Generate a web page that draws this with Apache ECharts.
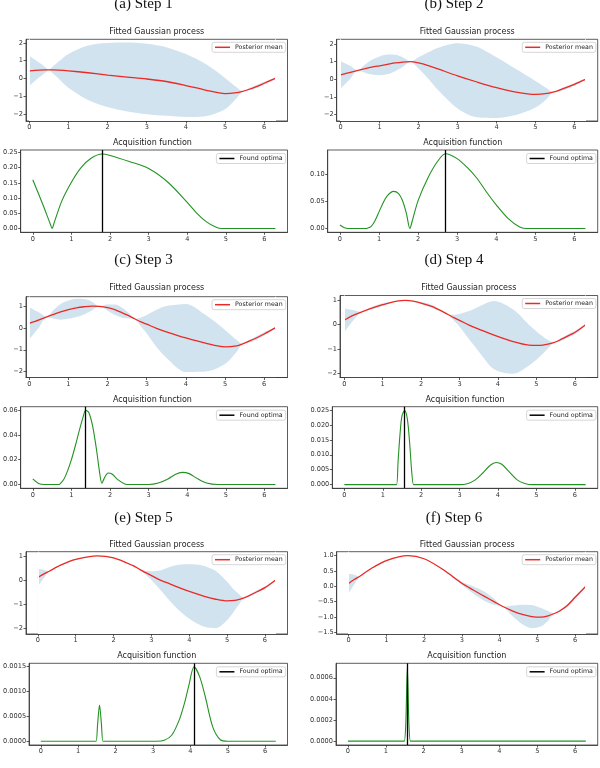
<!DOCTYPE html>
<html>
<head>
<meta charset="utf-8">
<script src="https://cdn.jsdelivr.net/npm/echarts@6/dist/echarts.min.js"></script>
<style>
  html, body { margin: 0; padding: 0; background: #fff; }
  #chart { width: 600px; height: 768px; }
</style>
</head>
<body>
<div id="chart"></div>
<script>
// ---- data ----
const stepLabels = ['(a) Step 1', '(b) Step 2', '(c) Step 3', '(d) Step 4', '(e) Step 5', '(f) Step 6'];
const xTicks = [0, 1, 2, 3, 4, 5, 6];

// step 1
const gpX_a = [0, 0.25, 0.4, 0.5, 0.6, 0.75, 1, 1.5, 2, 2.5, 3, 3.5, 4, 4.5, 5, 5.3, 5.45, 5.6, 5.8, 6, 6.283];
const mean_a = [0.43, 0.47, 0.48, 0.48, 0.48, 0.47, 0.43, 0.32, 0.19, 0.08, -0.03, -0.17, -0.40, -0.65, -0.85, -0.80, -0.72, -0.62, -0.46, -0.27, 0];
const upper_a = [1.28, 0.89, 0.65, 0.48, 0.67, 0.95, 1.38, 1.85, 1.99, 2.02, 1.95, 1.76, 1.37, 0.82, 0.03, -0.50, -0.72, -0.56, -0.37, -0.18, 0.04];
const lower_a = [-0.42, 0.05, 0.31, 0.48, 0.29, -0.01, -0.52, -1.21, -1.61, -1.86, -2.01, -2.10, -2.17, -2.12, -1.73, -1.10, -0.72, -0.68, -0.55, -0.36, -0.04];
const acqX_a = [0, 0.25, 0.45, 0.5, 0.55, 0.75, 1, 1.25, 1.5, 1.79, 2, 2.5, 3, 3.5, 4, 4.25, 4.5, 4.75, 4.9, 5.1, 6.283];
const acq_a = [0.160, 0.082, 0.016, 0, 0.018, 0.090, 0.152, 0.200, 0.230, 0.2445, 0.240, 0.220, 0.197, 0.152, 0.086, 0.050, 0.022, 0.004, 0, 0, 0];
const optimum_a = 1.79;

// step 2
const gpX_b = [0, 0.25, 0.45, 0.6, 0.8, 1, 1.2, 1.4, 1.6, 1.79, 2, 2.25, 2.5, 3, 3.5, 4, 4.5, 5, 5.3, 5.45, 5.6, 5.8, 6, 6.283];
const mean_b = [0.26, 0.40, 0.51, 0.59, 0.69, 0.77, 0.85, 0.93, 0.98, 1.0, 0.93, 0.78, 0.59, 0.20, -0.15, -0.47, -0.72, -0.85, -0.80, -0.72, -0.62, -0.46, -0.28, 0];
const upper_b = [1.04, 0.76, 0.51, 0.79, 1.11, 1.30, 1.41, 1.40, 1.25, 1.0, 1.25, 1.53, 1.79, 2.05, 1.85, 1.25, 0.58, -0.10, -0.52, -0.72, -0.56, -0.38, -0.20, 0.03];
const lower_b = [-0.52, 0.04, 0.51, 0.39, 0.27, 0.24, 0.29, 0.46, 0.71, 1.0, 0.61, 0.03, -0.61, -1.65, -2.15, -2.19, -2.02, -1.60, -1.08, -0.72, -0.68, -0.54, -0.36, -0.03];
const acqX_b = [0, 0.1, 0.2, 0.65, 0.7, 0.8, 0.9, 1.0, 1.1, 1.2, 1.37, 1.5, 1.6, 1.7, 1.79, 1.85, 2.0, 2.25, 2.5, 2.7, 3.0, 3.25, 3.5, 3.75, 4.0, 4.3, 4.6, 4.8, 4.9, 6.283];
const acq_b = [0.0065, 0.002, 0, 0, 0.0005, 0.004, 0.015, 0.031, 0.047, 0.060, 0.069, 0.065, 0.052, 0.028, 0, 0.014, 0.052, 0.094, 0.125, 0.139, 0.130, 0.114, 0.094, 0.068, 0.044, 0.019, 0.003, 0, 0, 0];
const optimum_b = 2.7;

// step 3
const gpX_c = [0, 0.25, 0.45, 0.6, 0.8, 1, 1.2, 1.4, 1.6, 1.79, 2, 2.2, 2.4, 2.55, 2.7, 2.85, 3, 3.25, 3.5, 4, 4.5, 5, 5.3, 5.45, 5.6, 5.8, 6, 6.283];
const mean_c = [0.21, 0.37, 0.51, 0.61, 0.74, 0.84, 0.92, 0.97, 1.0, 0.99, 0.93, 0.83, 0.67, 0.55, 0.41, 0.28, 0.17, -0.02, -0.18, -0.46, -0.70, -0.87, -0.82, -0.73, -0.62, -0.46, -0.28, 0];
const upper_c = [0.95, 0.71, 0.51, 0.79, 1.10, 1.26, 1.34, 1.32, 1.20, 0.99, 1.07, 1.07, 0.89, 0.67, 0.41, 0.48, 0.59, 0.83, 1.0, 1.10, 0.60, -0.09, -0.55, -0.73, -0.56, -0.38, -0.20, 0.03];
const lower_c = [-0.53, 0.03, 0.51, 0.43, 0.38, 0.42, 0.50, 0.62, 0.80, 0.99, 0.79, 0.59, 0.45, 0.43, 0.41, 0.08, -0.25, -0.87, -1.36, -2.02, -2.0, -1.65, -1.09, -0.73, -0.68, -0.54, -0.36, -0.03];
const acqX_c = [0, 0.15, 0.3, 0.65, 0.7, 0.8, 0.9, 1.0, 1.1, 1.2, 1.3, 1.37, 1.45, 1.55, 1.65, 1.72, 1.79, 1.85, 1.95, 2.05, 2.2, 2.4, 2.5, 3.0, 3.25, 3.5, 3.7, 3.87, 4.05, 4.25, 4.5, 4.8, 4.9, 6.283];
const acq_c = [0.0045, 0.0008, 0, 0, 0.0004, 0.004, 0.011, 0.020, 0.031, 0.043, 0.054, 0.0597, 0.058, 0.047, 0.028, 0.012, 0.001, 0.005, 0.0093, 0.0085, 0.004, 0.0003, 0, 0, 0.0012, 0.0045, 0.0083, 0.0098, 0.0088, 0.005, 0.0012, 0, 0, 0];
const optimum_c = 1.37;

// step 4
const gpX_d = [0, 0.2, 0.45, 0.7, 1, 1.37, 1.6, 1.79, 2, 2.3, 2.7, 2.85, 3, 3.25, 3.5, 3.9, 4.4, 4.8, 5.1, 5.3, 5.45, 5.6, 5.8, 6, 6.283];
const mean_d = [0.18, 0.36, 0.52, 0.67, 0.82, 0.97, 1.0, 0.97, 0.89, 0.74, 0.42, 0.29, 0.18, -0.02, -0.18, -0.43, -0.70, -0.84, -0.85, -0.80, -0.74, -0.64, -0.48, -0.32, 0];
const upper_d = [0.68, 0.61, 0.52, 0.72, 0.88, 0.97, 1.02, 0.97, 0.93, 0.80, 0.42, 0.41, 0.44, 0.56, 0.74, 0.97, 0.62, 0.01, -0.40, -0.62, -0.74, -0.59, -0.41, -0.25, 0.03];
const lower_d = [-0.32, 0.11, 0.52, 0.62, 0.76, 0.97, 0.98, 0.97, 0.85, 0.68, 0.42, 0.17, -0.08, -0.60, -1.10, -1.83, -2.02, -1.69, -1.30, -0.98, -0.74, -0.69, -0.55, -0.39, -0.03];
const acqX_d = [0, 1.3, 1.36, 1.4, 1.45, 1.5, 1.57, 1.64, 1.7, 1.75, 1.8, 1.85, 3.0, 3.2, 3.4, 3.6, 3.8, 3.95, 4.1, 4.3, 4.5, 4.7, 4.9, 6.283];
const acq_d = [0, 0, 0, 0.008, 0.017, 0.023, 0.0248, 0.022, 0.014, 0.005, 0, 0, 0, 0.0003, 0.0015, 0.0038, 0.0065, 0.0074, 0.0068, 0.0042, 0.0016, 0.0004, 0, 0];
const optimum_d = 1.57;

// step 5
const gpX_e = [0, 0.15, 0.3, 0.6, 1, 1.57, 2, 2.5, 2.7, 2.85, 3, 3.25, 3.5, 3.8, 4.1, 4.4, 4.7, 5, 5.2, 5.35, 5.45, 5.6, 5.8, 6, 6.283];
const mean_e = [0.10, 0.24, 0.36, 0.61, 0.85, 1.0, 0.91, 0.60, 0.43, 0.30, 0.18, -0.02, -0.17, -0.36, -0.53, -0.68, -0.80, -0.87, -0.85, -0.79, -0.74, -0.64, -0.48, -0.32, 0];
const upper_e = [0.46, 0.42, 0.36, 0.63, 0.87, 1.0, 0.92, 0.62, 0.43, 0.38, 0.36, 0.40, 0.55, 0.64, 0.65, 0.58, 0.37, -0.07, -0.43, -0.64, -0.74, -0.60, -0.43, -0.27, 0.02];
const lower_e = [-0.26, 0.06, 0.36, 0.59, 0.83, 1.0, 0.90, 0.58, 0.43, 0.22, 0.0, -0.44, -0.89, -1.36, -1.71, -1.94, -2.0, -1.67, -1.27, -0.94, -0.74, -0.68, -0.53, -0.37, -0.02];
const acqX_e = [0, 1.44, 1.48, 1.52, 1.57, 1.62, 1.66, 1.7, 3.1, 3.3, 3.5, 3.7, 3.85, 3.95, 4.1, 4.25, 4.4, 4.6, 4.8, 5.0, 5.1, 6.283];
const acq_e = [0, 0, 0, 0.00035, 0.00072, 0.00035, 0, 0, 0, 0.00002, 0.00012, 0.00042, 0.00078, 0.00108, 0.00148, 0.00128, 0.00088, 0.00028, 0.00003, 0, 0, 0];
const optimum_e = 4.1;

// step 6
const gpX_f = [0, 0.15, 0.3, 0.6, 1, 1.57, 2, 2.5, 3, 3.3, 3.6, 3.85, 4.1, 4.35, 4.6, 4.85, 5.1, 5.3, 5.45, 5.6, 5.8, 6, 6.283];
const mean_f = [0.09, 0.22, 0.33, 0.58, 0.84, 1.0, 0.90, 0.55, 0.10, -0.12, -0.33, -0.50, -0.67, -0.81, -0.92, -0.99, -1.01, -0.96, -0.89, -0.80, -0.62, -0.36, 0];
const upper_f = [0.41, 0.38, 0.33, 0.60, 0.86, 1.0, 0.91, 0.57, 0.15, 0.0, -0.18, -0.40, -0.67, -0.63, -0.60, -0.61, -0.71, -0.82, -0.89, -0.77, -0.58, -0.32, 0.02];
const lower_f = [-0.23, 0.06, 0.33, 0.56, 0.82, 1.0, 0.89, 0.53, 0.05, -0.24, -0.48, -0.60, -0.67, -0.99, -1.24, -1.37, -1.31, -1.10, -0.89, -0.83, -0.66, -0.40, -0.02];
const acqX_f = [0, 1.45, 1.49, 1.53, 1.57, 1.61, 1.65, 1.69, 6.283];
const acq_f = [0, 0, 0, 0.00018, 0.0007, 0.00018, 0, 0, 0];
const optimum_f = 1.57;

// tick labels
const gpTicks_a = [-2, -1, 0, 1, 2];
const gpTicks_b = [-2, -1, 0, 1, 2];
const gpTicks_c = [-2, -1, 0, 1];
const gpTicks_d = [-2, -1, 0, 1];
const gpTicks_e = [-2, -1, 0, 1];
const gpTicks_f = [-1.5, -1, -0.5, 0, 0.5, 1];
const acqTicks_a = [0, 0.05, 0.1, 0.15, 0.2, 0.25];
const acqTicks_b = [0, 0.05, 0.1];
const acqTicks_c = [0, 0.02, 0.04, 0.06];
const acqTicks_d = [0, 0.005, 0.01, 0.015, 0.02, 0.025];
const acqTicks_e = [0, 0.0005, 0.001, 0.0015];
const acqTicks_f = [0, 0.0002, 0.0004, 0.0006];

const steps = [
  { gpX: gpX_a, mean: mean_a, upper: upper_a, lower: lower_a, acqX: acqX_a, acq: acq_a, opt: optimum_a, gpTicks: gpTicks_a, acqTicks: acqTicks_a, gpDec: 0, acqDec: 2 },
  { gpX: gpX_b, mean: mean_b, upper: upper_b, lower: lower_b, acqX: acqX_b, acq: acq_b, opt: optimum_b, gpTicks: gpTicks_b, acqTicks: acqTicks_b, gpDec: 0, acqDec: 2 },
  { gpX: gpX_c, mean: mean_c, upper: upper_c, lower: lower_c, acqX: acqX_c, acq: acq_c, opt: optimum_c, gpTicks: gpTicks_c, acqTicks: acqTicks_c, gpDec: 0, acqDec: 2 },
  { gpX: gpX_d, mean: mean_d, upper: upper_d, lower: lower_d, acqX: acqX_d, acq: acq_d, opt: optimum_d, gpTicks: gpTicks_d, acqTicks: acqTicks_d, gpDec: 0, acqDec: 3 },
  { gpX: gpX_e, mean: mean_e, upper: upper_e, lower: lower_e, acqX: acqX_e, acq: acq_e, opt: optimum_e, gpTicks: gpTicks_e, acqTicks: acqTicks_e, gpDec: 0, acqDec: 4 },
  { gpX: gpX_f, mean: mean_f, upper: upper_f, lower: lower_f, acqX: acqX_f, acq: acq_f, opt: optimum_f, gpTicks: gpTicks_f, acqTicks: acqTicks_f, gpDec: 1, acqDec: 4 }
];

// ---- layout (pixels) ----
const layout = [
  { titleX: 143.5, titleY: 3.9, gpTitleY: 32.4, acqTitleY: 143.3,
    gp: { left: 26, top: 39.3, width: 261.5, height: 81.7, xmin: -0.085, ymin: -2.39, ymax: 2.2 },
    acq: { left: 17.3, top: 150, width: 270.2, height: 82.3, xmin: -0.314, ymin: -0.0123, ymax: 0.2578 } },
  { titleX: 454, titleY: 3.9, gpTitleY: 32.4, acqTitleY: 143.3,
    gp: { left: 336.7, top: 39.3, width: 261, height: 81.7, xmin: -0.1, ymin: -2.36, ymax: 2.27 },
    acq: { left: 327.7, top: 150, width: 270, height: 82.3, xmin: -0.314, ymin: -0.007, ymax: 0.146 } },
  { titleX: 143.5, titleY: 259.6, gpTitleY: 288.3, acqTitleY: 400,
    gp: { left: 26, top: 296.7, width: 261.5, height: 80.8, xmin: -0.085, ymin: -2.27, ymax: 1.43 },
    acq: { left: 17.3, top: 406.7, width: 270.2, height: 81.6, xmin: -0.314, ymin: -0.003, ymax: 0.0626 } },
  { titleX: 454, titleY: 259.6, gpTitleY: 288.3, acqTitleY: 400,
    gp: { left: 340, top: 295.5, width: 257.7, height: 82, xmin: -0.11, ymin: -2.17, ymax: 1.2 },
    acq: { left: 332.3, top: 406.7, width: 265.4, height: 81.6, xmin: -0.314, ymin: -0.00124, ymax: 0.0261 } },
  { titleX: 143.5, titleY: 517.9, gpTitleY: 545, acqTitleY: 656,
    gp: { left: 26, top: 551.7, width: 261.5, height: 82.3, xmin: -0.314, ymin: -2.24, ymax: 1.17 },
    acq: { left: 26, top: 663.3, width: 261.5, height: 81.7, xmin: -0.314, ymin: -0.000074, ymax: 0.00155 } },
  { titleX: 454, titleY: 517.9, gpTitleY: 545, acqTitleY: 656,
    gp: { left: 336.7, top: 551.7, width: 261, height: 82.3, xmin: -0.314, ymin: -1.56, ymax: 1.13 },
    acq: { left: 336, top: 663.3, width: 261.7, height: 81.7, xmin: -0.314, ymin: -0.000037, ymax: 0.000737 } }
];

const FONT = 'DejaVu Sans';
const AXIS_COLOR = '#333';
const RED = '#ea2a24';
const GREEN = '#229322';
const BAND = '#d2e3f0';

function fmt(dec) {
  return function (v) {
    const s = Math.abs(v).toFixed(dec);
    return (v < -1e-12 ? '\u2212' : '') + s;
  };
}

function axis(gi, min, max, ticks, dec) {
  return {
    type: 'value', gridIndex: gi, min: min, max: max, z: 5,
    splitLine: { show: false },
    axisLine: { show: true, onZero: false, lineStyle: { color: AXIS_COLOR, width: 0.8 } },
    axisTick: { show: true, length: 2.5, customValues: ticks, lineStyle: { color: AXIS_COLOR, width: 0.8 } },
    axisLabel: { customValues: ticks, fontSize: 6.6, color: '#333', fontFamily: FONT, margin: 3, formatter: fmt(dec) }
  };
}

const grids = [], xAxes = [], yAxes = [], series = [], legends = [], graphics = [];

steps.forEach(function (s, i) {
  const L = layout[i];
  const gGp = i * 2, gAcq = i * 2 + 1;

  [L.gp, L.acq].forEach(function (g) {
    grids.push({ left: g.left, top: g.top, width: g.width, height: g.height, show: true,
      borderColor: AXIS_COLOR, borderWidth: 0.8, backgroundColor: 'transparent' });
  });

  xAxes.push(axis(gGp, L.gp.xmin, 6.597, xTicks, 0));
  yAxes.push(axis(gGp, L.gp.ymin, L.gp.ymax, s.gpTicks, s.gpDec));
  xAxes.push(axis(gAcq, L.acq.xmin, 6.597, xTicks, 0));
  yAxes.push(axis(gAcq, L.acq.ymin, L.acq.ymax, s.acqTicks, s.acqDec));

  // confidence band: area under the upper edge, then a white area under the lower edge
  series.push({
    type: 'line', xAxisIndex: gGp, yAxisIndex: gGp,
    symbol: 'none', smooth: 0.3, silent: true, z: 1,
    lineStyle: { width: 0, opacity: 0 },
    areaStyle: { color: BAND, opacity: 1, origin: 'start' },
    data: s.gpX.map(function (x, k) { return [x, s.upper[k]]; })
  });
  series.push({
    type: 'line', xAxisIndex: gGp, yAxisIndex: gGp,
    symbol: 'none', smooth: 0.3, silent: true, z: 2,
    lineStyle: { width: 0, opacity: 0 },
    areaStyle: { color: '#fff', opacity: 1, origin: 'start' },
    data: s.gpX.map(function (x, k) { return [x, s.lower[k]]; }),
    // wipe the anti-aliasing seam left at both ends of the band
    markLine: {
      silent: true, symbol: ['none', 'none'], animation: false,
      label: { show: false }, emphasis: { disabled: true },
      lineStyle: { color: '#fff', width: 1, type: 'solid', opacity: 1 },
      data: [{ xAxis: s.gpX[0] }, { xAxis: s.gpX[s.gpX.length - 1] }]
    }
  });
  series.push({
    type: 'line', name: 'Posterior mean', xAxisIndex: gGp, yAxisIndex: gGp,
    symbol: 'none', smooth: 0.3, z: 3,
    lineStyle: { color: RED, width: 1.3 }, itemStyle: { color: RED },
    data: s.gpX.map(function (x, k) { return [x, s.mean[k]]; })
  });
  series.push({
    type: 'line', name: 'Acquisition function', xAxisIndex: gAcq, yAxisIndex: gAcq,
    symbol: 'none', smooth: 0.3, z: 3,
    lineStyle: { color: GREEN, width: 1.1 }, itemStyle: { color: GREEN },
    data: s.acqX.map(function (x, k) { return [x, s.acq[k]]; })
  });
  series.push({
    type: 'line', name: 'Found optima', xAxisIndex: gAcq, yAxisIndex: gAcq,
    symbol: 'none', z: 4, data: [],
    lineStyle: { color: '#000', width: 1.3 }, itemStyle: { color: '#000' },
    markLine: {
      silent: true, symbol: ['none', 'none'], animation: false,
      label: { show: false },
      lineStyle: { color: '#000', width: 1.3, type: 'solid' },
      emphasis: { disabled: true },
      data: [{ xAxis: s.opt }]
    }
  });

  const legendBase = {
    orient: 'vertical', icon: 'rect', itemWidth: 15, itemHeight: 1.5,
    backgroundColor: '#fff', borderColor: '#ccc', borderWidth: 0.8, borderRadius: 2,
    padding: [2, 3, 2, 3], selectedMode: false, z: 6,
    textStyle: { fontSize: 6.3, color: '#222', fontFamily: FONT }
  };
  legends.push(Object.assign({}, legendBase, {
    data: ['Posterior mean'],
    right: 600 - (L.gp.left + L.gp.width) + 1.8, top: L.gp.top + 3
  }));
  legends.push(Object.assign({}, legendBase, {
    data: ['Found optima'],
    right: 600 - (L.acq.left + L.acq.width) + 1.8, top: L.acq.top + 3.5
  }));

  graphics.push({ type: 'text', x: L.titleX, y: L.titleY,
    style: { text: stepLabels[i], font: '15px "Liberation Serif"', fill: '#111', textAlign: 'center', textVerticalAlign: 'middle' } });
  graphics.push({ type: 'text', x: L.gp.left + L.gp.width / 2, y: L.gpTitleY,
    style: { text: 'Fitted Gaussian process', font: '8px "DejaVu Sans"', fill: '#222', textAlign: 'center', textVerticalAlign: 'middle' } });
  graphics.push({ type: 'text', x: L.acq.left + L.acq.width / 2, y: L.acqTitleY,
    style: { text: 'Acquisition function', font: '8px "DejaVu Sans"', fill: '#222', textAlign: 'center', textVerticalAlign: 'middle' } });
});

const chart = echarts.init(document.getElementById('chart'), null, { renderer: 'canvas' });
chart.setOption({
  animation: false,
  backgroundColor: '#fff',
  grid: grids,
  xAxis: xAxes,
  yAxis: yAxes,
  legend: legends,
  graphic: graphics,
  series: series
});
</script>
</body>
</html>
